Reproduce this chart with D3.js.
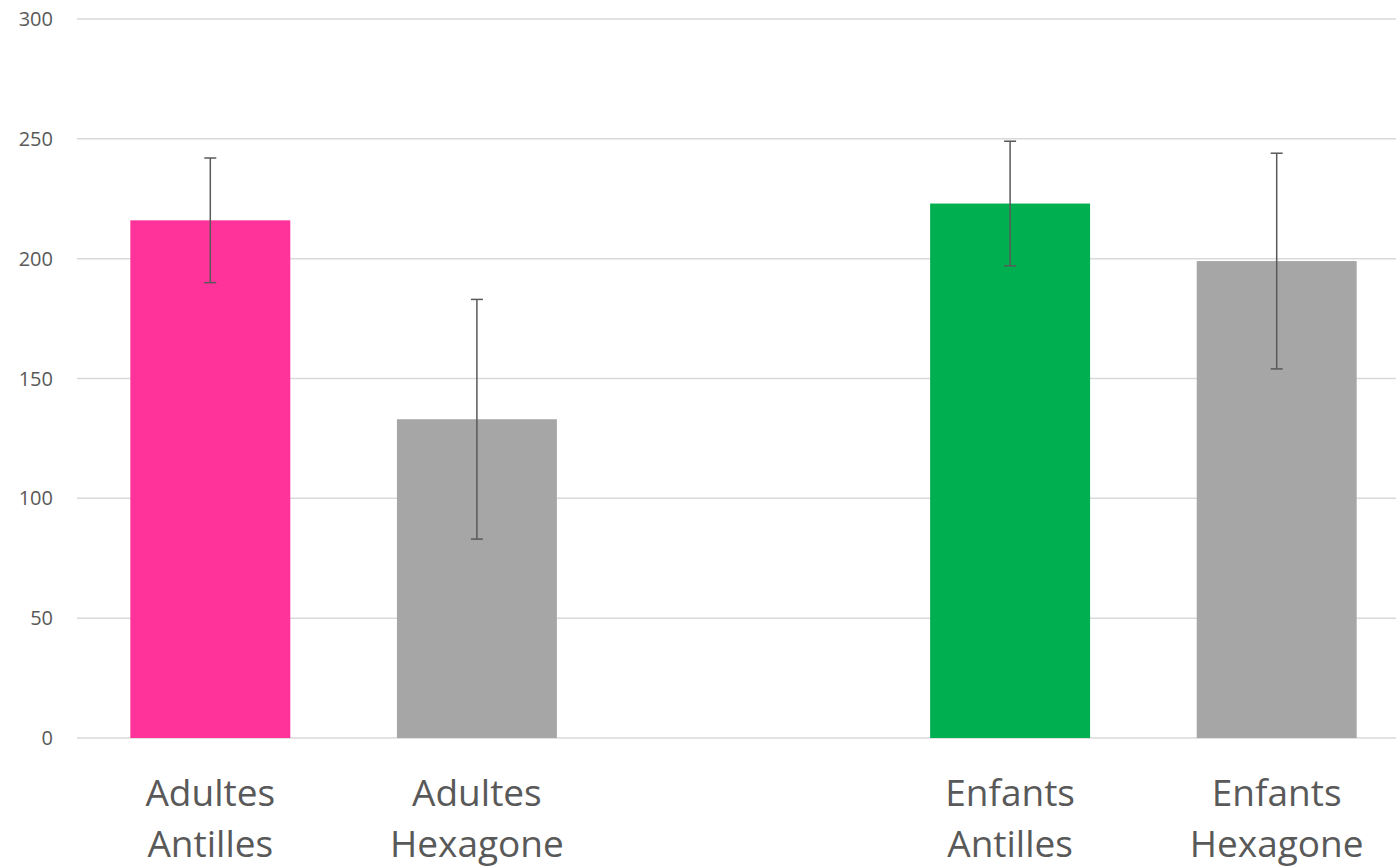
<!DOCTYPE html>
<html lang="fr">
<head>
  <meta charset="UTF-8">
  <title>Adultes / Enfants</title>
  <script src="https://d3js.org/d3.v7.min.js"></script>
  <style>
    body { margin: 0; background: #fff; }
    text { font-family: "Open Sans", "Liberation Sans", sans-serif; fill: #595959; }
  </style>
</head>
<body>
<script type="text/javascript">
    // data; "" is the empty gap slot
    var categories = ["Adultes Antilles", "Adultes Hexagone", "", "Enfants Antilles", "Enfants Hexagone"];
    var values     = [216, 133, null, 223, 199];
    var errors     = [26, 50, null, 26, 45];
    var colors     = ["#ff3399", "#a6a6a6", null, "#00b050", "#a6a6a6"];
    var yTicks     = [0, 50, 100, 150, 200, 250, 300];

    var width = 1396, height = 866;
    var plotLeft = 77, plotRight = 1410, plotTop = 19, plotBottom = 738;

    var svg = d3.select("body").append("svg")
                .attr("width", width)
                .attr("height", height);

    var x = d3.scaleBand()
              .domain(d3.range(categories.length))
              .range([plotLeft, plotRight])
              .paddingInner(0.4)
              .paddingOuter(0.2);

    var y = d3.scaleLinear()
              .domain([0, 300])
              .range([plotBottom, plotTop]);

    // gridlines
    svg.selectAll("line.grid")
       .data(yTicks)
       .enter().append("line")
       .attr("class", "grid")
       .attr("x1", plotLeft).attr("x2", width)
       .attr("y1", function(d){ return y(d); })
       .attr("y2", function(d){ return y(d); })
       .attr("stroke", "#d9d9d9")
       .attr("stroke-width", 1.5);

    // y tick labels
    svg.selectAll("text.ytick")
       .data(yTicks)
       .enter().append("text")
       .attr("class", "ytick")
       .attr("x", 53)
       .attr("y", function(d){ return y(d); })
       .attr("dy", "0.35em")
       .attr("text-anchor", "end")
       .style("font-size", "20px")
       .text(function(d){ return d; });

    var rows = d3.range(categories.length).filter(function(i){ return values[i] != null; });

    // bars
    svg.selectAll("rect.bar")
       .data(rows)
       .enter().append("rect")
       .attr("class", "bar")
       .attr("x", function(i){ return x(i); })
       .attr("width", x.bandwidth())
       .attr("y", function(i){ return y(values[i]); })
       .attr("height", function(i){ return y(0) - y(values[i]); })
       .attr("fill", function(i){ return colors[i]; });

    // error bars
    var eb = svg.selectAll("g.err")
       .data(rows)
       .enter().append("g")
       .attr("class", "err")
       .attr("stroke", "#595959")
       .attr("stroke-width", 1.5);

    var cx = function(i){ return x(i) + x.bandwidth() / 2; };
    eb.append("line")
      .attr("x1", cx).attr("x2", cx)
      .attr("y1", function(i){ return y(values[i] + errors[i]); })
      .attr("y2", function(i){ return y(values[i] - errors[i]); });
    eb.append("line")
      .attr("x1", function(i){ return cx(i) - 6; })
      .attr("x2", function(i){ return cx(i) + 6; })
      .attr("y1", function(i){ return y(values[i] + errors[i]); })
      .attr("y2", function(i){ return y(values[i] + errors[i]); });
    eb.append("line")
      .attr("x1", function(i){ return cx(i) - 6; })
      .attr("x2", function(i){ return cx(i) + 6; })
      .attr("y1", function(i){ return y(values[i] - errors[i]); })
      .attr("y2", function(i){ return y(values[i] - errors[i]); });

    // category labels, two lines each
    var labels = svg.selectAll("text.cat")
       .data(rows)
       .enter().append("text")
       .attr("class", "cat")
       .attr("text-anchor", "middle")
       .style("font-size", "37px");

    labels.selectAll("tspan")
       .data(function(i){ return categories[i].split(" ").map(function(w){ return {i: i, w: w}; }); })
       .enter().append("tspan")
       .attr("x", function(d){ return cx(d.i); })
       .attr("y", function(d, k){ return 806 + k * 51; })
       .text(function(d){ return d.w; });
</script>
</body>
</html>
